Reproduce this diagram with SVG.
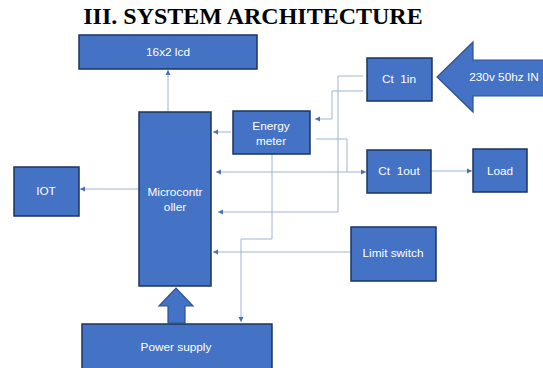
<svg xmlns="http://www.w3.org/2000/svg" width="543" height="368" viewBox="0 0 543 368">
<style>
.box{fill:#4472c4;stroke:#1c355e;stroke-width:1.5}
.lbl{fill:#ffffff;font-family:"Liberation Sans",Arial,sans-serif;font-size:11.8px;text-anchor:middle;white-space:pre}
.ln{fill:none;stroke:#9fb4d6;stroke-width:1}
.big{fill:#4472c4;stroke:#2f528f;stroke-width:1.2}
.title{font-family:"Liberation Serif","Times New Roman",serif;font-weight:bold;font-size:24px;text-anchor:middle;fill:#000}
</style>
<defs>
<marker id="ah" markerWidth="6" markerHeight="6" refX="5" refY="3" orient="auto" markerUnits="userSpaceOnUse">
<path d="M0,0.5 L5,3 L0,5.5 Z" fill="#4a6fae"/>
</marker>
<marker id="ahs" markerWidth="6" markerHeight="6" refX="0" refY="3" orient="auto" markerUnits="userSpaceOnUse">
<path d="M5,0.5 L0,3 L5,5.5 Z" fill="#4a6fae"/>
</marker>
</defs>
<rect width="543" height="368" fill="#ffffff"/>
<text class="title" x="253" y="24">III. SYSTEM ARCHITECTURE</text>

<g id="connectors">
<polyline class="ln" points="168,112 168,70" marker-end="url(#ah)"/>
<polyline class="ln" points="139,189 80,189" marker-end="url(#ah)"/>
<polyline class="ln" points="231,132 213,132" marker-end="url(#ah)"/>
<polyline class="ln" points="363,91 332,91 332,119 315,119" marker-end="url(#ah)"/>
<polyline class="ln" points="363,76 338,76 338,212 218,212" marker-end="url(#ah)"/>
<polyline class="ln" points="316,139 347,139 347,172"/>
<polyline class="ln" points="216,172 366,172" marker-start="url(#ahs)" marker-end="url(#ah)"/>
<polyline class="ln" points="431,171 472,171" marker-end="url(#ah)"/>
<polyline class="ln" points="351,252 213,252" marker-end="url(#ah)"/>
<polyline class="ln" points="272,154 272,239 241,239 241,322" marker-end="url(#ah)"/>
<polygon id="pwr-arrow" class="big" points="168,323 168,306 159,306 176,288 193,306 185,306 185,323"/>
<polygon id="in-arrow" class="big" points="544,60 473,60 473,42 437,77 473,112 473,96 544,96"/>
</g>

<g id="lcd"><rect class="box" x="79" y="35" width="178" height="34"/><text class="lbl" x="168" y="56">16x2 lcd</text></g>
<g id="micro"><rect class="box" x="139" y="112" width="72" height="174"/><text class="lbl" x="175" y="196">Microcontr</text><text class="lbl" x="175" y="211">oller</text></g>
<g id="energy"><rect class="box" x="233" y="111" width="77" height="43"/><text class="lbl" x="271" y="130">Energy</text><text class="lbl" x="271" y="145">meter</text></g>
<g id="ct1in"><rect class="box" x="367" y="58" width="65" height="43"/><text class="lbl" x="399" y="83" xml:space="preserve">Ct  1in</text></g>
<g id="input"><text class="lbl" x="504" y="81">230v 50hz IN</text></g>
<g id="ct1out"><rect class="box" x="367" y="150" width="64" height="43"/><text class="lbl" x="399" y="175" xml:space="preserve">Ct  1out</text></g>
<g id="load"><rect class="box" x="473" y="149" width="54" height="43"/><text class="lbl" x="500" y="175">Load</text></g>
<g id="iot"><rect class="box" x="14" y="167" width="65" height="49"/><text class="lbl" x="46" y="195">IOT</text></g>
<g id="limit"><rect class="box" x="351" y="227" width="85" height="54"/><text class="lbl" x="393" y="257">Limit switch</text></g>
<g id="power"><rect class="box" x="82" y="324" width="190" height="50"/><text class="lbl" x="176" y="351">Power supply</text></g>
</svg>
